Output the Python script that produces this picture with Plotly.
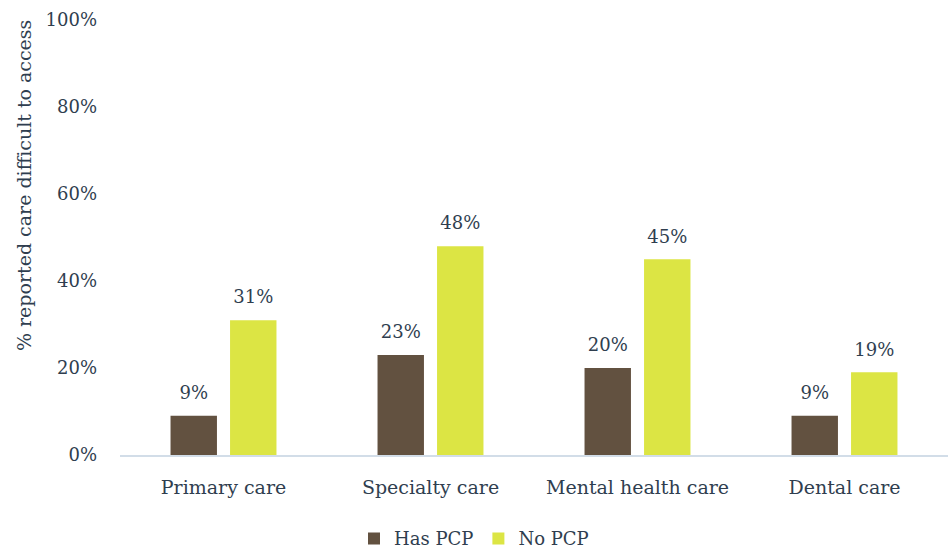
import plotly.graph_objects as go

categories = ["Primary care", "Specialty care", "Mental health care", "Dental care"]
has_pcp = [9, 23, 20, 9]
no_pcp = [31, 48, 45, 19]
y_ticks = [0, 20, 40, 60, 80, 100]
y_tick_labels = [f"{v}%" for v in y_ticks]
y_title = "% reported care difficult to access"

FONT = "DejaVu Serif"
TEXT = "#2f3e4f"


def value_labels(vals):
    # value label, with a short spacer line underneath to lift it off the bar
    return [f"<span style='font-size:18px'>{v}%</span><br> " for v in vals]


fig = go.Figure()
for name, vals, color in [("Has PCP", has_pcp, "#625140"), ("No PCP", no_pcp, "#dce544")]:
    fig.add_trace(go.Bar(
        name=name, x=categories, y=vals, marker_color=color,
        marker_line_width=0,
        text=value_labels(vals), texttemplate="%{text}",
        textposition="outside", cliponaxis=False, constraintext="none",
        textfont=dict(family=FONT, size=9, color=TEXT),
        hovertemplate="%{x}: %{y}%<extra>" + name + "</extra>",
    ))

fig.update_layout(
    width=948, height=548,
    margin=dict(l=120, r=0, t=20, b=93, autoexpand=False),
    paper_bgcolor="white", plot_bgcolor="white",
    barmode="group", bargap=0.425, bargroupgap=0.22,
    font=dict(family=FONT, size=18, color=TEXT),
    legend=dict(orientation="h", xref="container", x=0.5, xanchor="center",
                yref="paper", y=-0.15, yanchor="top",
                font=dict(family=FONT, size=18, color=TEXT),
                itemwidth=30, tracegroupgap=0),
    annotations=[dict(text=y_title, textangle=-90, showarrow=False,
                      xref="paper", x=-0.115, xanchor="center",
                      yref="paper", y=0.62, yanchor="middle",
                      font=dict(family=FONT, size=19, color=TEXT))],
)
fig.update_xaxes(showline=True, linecolor="#d2dde8", linewidth=2,
                 showgrid=False, ticks="", tickfont=dict(size=19),
                 tickangle=0, ticklabelstandoff=14)
fig.update_yaxes(range=[0, 100], tickvals=y_ticks, ticktext=y_tick_labels,
                 showgrid=False, zeroline=False, showline=False,
                 tickfont=dict(size=18), ticklabelstandoff=22)

fig.write_html("out.html")
